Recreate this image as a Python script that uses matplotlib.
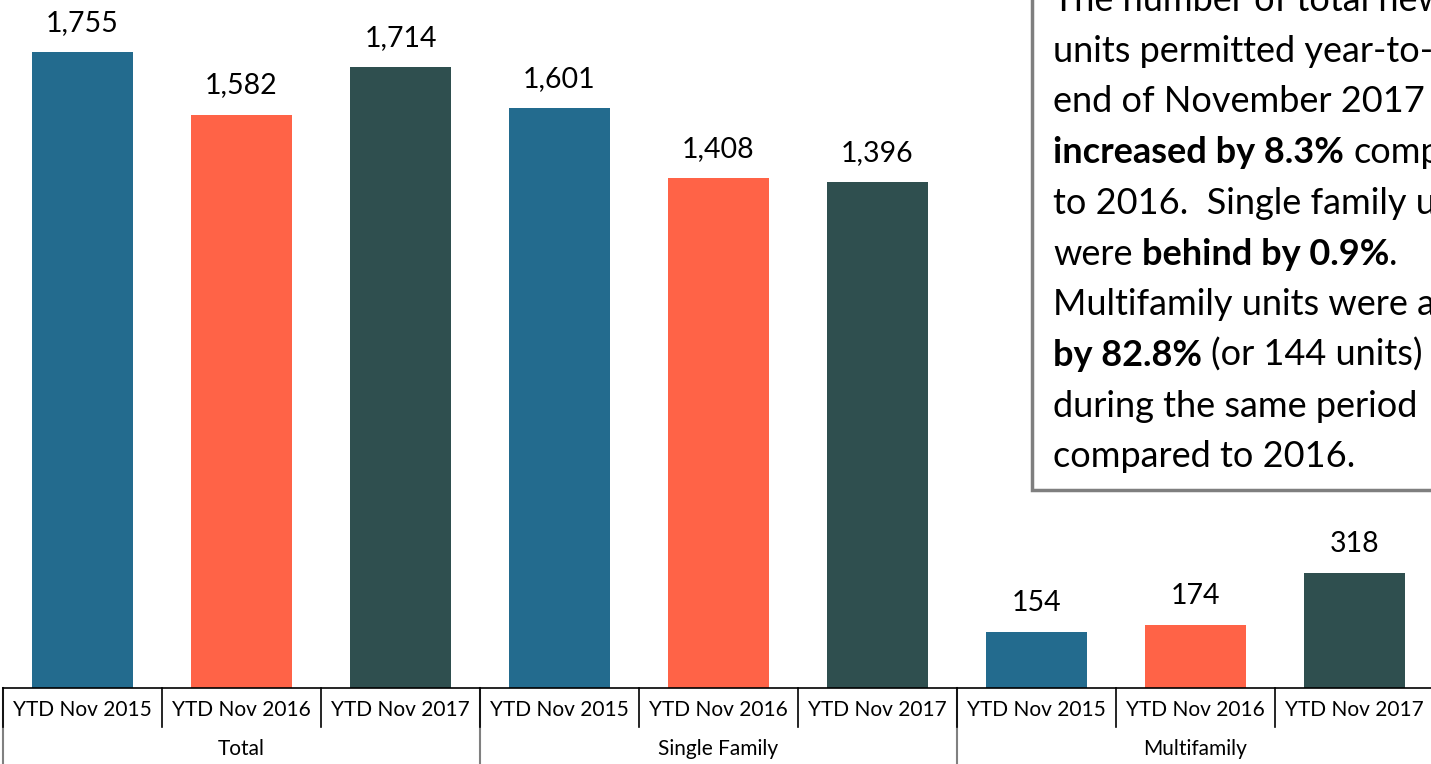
import matplotlib.pyplot as plt
from matplotlib.patches import Rectangle
import matplotlib.transforms as mtransforms

plt.rcParams['font.family'] = ['Lato', 'DejaVu Sans']

# data
groups = ['Total', 'Single Family', 'Multifamily']
periods = ['YTD Nov 2015', 'YTD Nov 2016', 'YTD Nov 2017']
total = [1755, 1582, 1714]
single_family = [1601, 1408, 1396]
multifamily = [154, 174, 318]
colors = ['#236B8E', '#FF6347', '#2F4F4F']

values = total + single_family + multifamily
W, H = 1431, 764
fig = plt.figure(figsize=(W / 100, H / 100), dpi=100)
ax = fig.add_axes([3 / W, 76 / H, 1431 / W, 688 / H])

xs = list(range(len(values)))
bar_colors = colors * len(groups)
ax.bar(xs, values, width=0.63, color=bar_colors)
for x, v in zip(xs, values):
    ax.annotate(f'{v:,}', (x, v), xytext=(0, 16), textcoords='offset pixels',
                ha='center', va='bottom', fontsize=20.5)

ax.set_xlim(-0.5, len(values) - 0.5)
ax.set_ylim(0, 1898)
for s in ['top', 'right', 'left']:
    ax.spines[s].set_visible(False)
ax.spines['bottom'].set_linewidth(1.2)
ax.set_xticks([])
ax.set_yticks([])

# two level category axis
tr = mtransforms.blended_transform_factory(ax.transData, ax.transAxes)
row1 = 39 / 688
row2 = 80 / 688
for i in range(len(values)):
    ax.annotate(periods[i % 3], (i, 0), xycoords=tr, xytext=(0, -22),
                textcoords='offset pixels', ha='center', va='center', fontsize=15)
for i in range(1, len(values)):
    if i % 3:
        ax.plot([i - 0.5, i - 0.5], [0, -row1], transform=tr, color='black',
                lw=1.2, clip_on=False)
for g in range(len(groups) + 1):
    x = g * 3 - 0.5
    ax.plot([x, x], [0, -row2], transform=tr, color='#808080', lw=1.5, clip_on=False)
    ax.plot([x, x], [0, -row1], transform=tr, color='black', lw=1.2, clip_on=False)
for g, name in enumerate(groups):
    ax.annotate(name, (g * 3 + 1, 0), xycoords=tr, xytext=(0, -61),
                textcoords='offset pixels', ha='center', va='center', fontsize=15)

# comment box (runs past the top and right edges, as in the original)
fig.add_artist(Rectangle((1032 / W, (H - 490) / H), 0.5, 1.0,
                         transform=fig.transFigure, facecolor='white',
                         edgecolor='#7F7F7F', lw=2.5))

lines = [
    [('The number of total new housing', False)],
    [('units permitted year-to-date at the', False)],
    [('end of November 2017', False)],
    [('increased by 8.3%', True), ('compared', False)],
    [('to 2016.  Single family units', False)],
    [('were', False), ('behind by 0.9%', True), ('.', False)],
    [('Multifamily units were ahead', False)],
    [('by 82.8%', True), ('(or 144 units)', False)],
    [('during the same period', False)],
    [('compared to 2016.', False)],
]
fs = 26
renderer = fig.canvas.get_renderer()
probe = fig.text(0, 0, 'a a', fontsize=fs)
w2 = probe.get_window_extent(renderer).width
probe.set_text('aa')
space = w2 - probe.get_window_extent(renderer).width
probe.remove()

for k, segs in enumerate(lines):
    y = H - (11 + 50.7 * k)
    x = 1053
    for j, (txt, bold) in enumerate(segs):
        if j > 0 and txt != '.':
            x += space
        t = fig.text(x / W, y / H, txt, fontsize=fs, va='baseline', ha='left',
                     fontweight='bold' if bold else 'normal')
        x += t.get_window_extent(renderer).width

fig.savefig('out.png', dpi=100)
